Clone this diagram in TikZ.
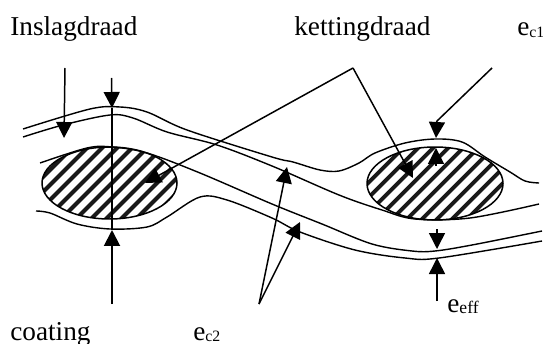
\documentclass[tikz,border=0pt]{standalone}
\usepackage{fontspec}
\setmainfont{Liberation Serif}
\usetikzlibrary{arrows.meta}
\newcommand{\lowtxt}[1]{\raisebox{-1pt}{\fontsize{9}{10}\selectfont #1}}

\begin{document}
\begin{tikzpicture}[x=0.02cm, y=-0.02cm, >={Triangle[width=0.32cm, length=0.32cm]},
  yarn/.style={line width=0.8pt, smooth, tension=0.55},
  arr/.style={->, line width=0.85pt},
  stripe/.style={line width=0.078cm, black!90},
  lbl/.style={anchor=base west, inner sep=0pt, font=\fontsize{15.5}{18}\selectfont}
]
\useasboundingbox[fill=white] (0,0) rectangle (543,344);

%% ---- Labels ----
\node[lbl] (inslag)  at (10,36)   {Inslagdraad};
\node[lbl] (ketting) at (294,36)  {kettingdraad};
\node[lbl] (ec1)     at (517,36)  {e\lowtxt{c1}};
\node[lbl] (coating) at (10,340)  {coating};
\node[lbl] (ec2)     at (193,340) {e\lowtxt{c2}};
\node[lbl] (eeff)    at (447,312) {e\lowtxt{\fontsize{10}{11}\selectfont eff}};

%% ---- Hatched yarn sections ----
\begin{scope}
  \clip (109.5,183) ellipse (67.5 and 36);
  \foreach \s in {-8,...,8}
    \draw[stripe] (109.5+\s*15+2.5-60,183+60) -- (109.5+\s*15+2.5+60,183-60);
\end{scope}
\begin{scope}
  \clip (435,183.5) ellipse (68 and 36.5);
  \foreach \s in {-8,...,8}
    \draw[stripe] (435+\s*15+7.5-60,183.5+60) -- (435+\s*15+7.5+60,183.5-60);
\end{scope}
\draw[line width=0.85pt] (109.5,183) ellipse (67.5 and 36);
\draw[line width=0.85pt] (435,183.5) ellipse (68 and 36.5);

%% ---- Coating lines ----
\draw[yarn] plot coordinates {(23,129) (90,109) (120,107) (147,112) (187,130) (272,157)
  (293,162) (320,170) (339,171) (359,163) (375,153) (405,143) (435,139) (462,142)
  (485,157) (510,172) (525,181) (539,183)};
\draw[yarn] plot coordinates {(23,137) (63,125) (110,115) (133,118) (167,132) (217,145)
  (272,166) (339,195) (382,210) (415,219) (470,218) (539,204)};
\draw[yarn] plot coordinates {(40,163) (87,148) (112,147) (147,153) (200,173) (272,204)
  (322,224) (372,244) (412,251) (435,251) (472,245) (542,231)};
\draw[yarn] plot coordinates {(36,211) (50,213) (77,224) (110,229) (147,227) (167,217)
  (200,197) (227,200) (272,218) (300,232) (355,250) (405,258) (439,258) (542,241)};

%% ---- Anchor points of the arrows ----
\coordinate (inslagfrom) at (65,68);
\coordinate (inslagto)   at (64,138);
\coordinate (ec2top)     at (111.5,78);
\coordinate (ec2upper)   at (112,108);
\coordinate (ec2lower)   at (112,230);
\coordinate (ec2from)    at (112,304);
\coordinate (kettingtop) at (353,68);
\coordinate (kettingl)   at (145,183);
\coordinate (kettingr)   at (413,178);
\coordinate (ec1from)    at (492,68);
\coordinate (ec1bend)    at (437,121);
\coordinate (ec1upper)   at (436,138);
\coordinate (ec1inner)   at (436,148);
\coordinate (ec1stub)    at (436,166);
\coordinate (coatfork)   at (259,304);
\coordinate (coatup)     at (287,167);
\coordinate (coatlow)    at (300,222);
\coordinate (effstart)   at (437,229);
\coordinate (effupper)   at (437,249);
\coordinate (efflower)   at (437,258);
\coordinate (efffrom)    at (437,301);

%% ---- Arrows ----
\draw[arr] (inslagfrom) -- (inslagto);
\draw[arr] (ec2top) -- (ec2upper);
\draw[line width=0.85pt] (ec2upper) -- (ec2lower);
\draw[arr, line width=1.1pt] (ec2from) -- (ec2lower);
\draw[arr] (kettingtop) -- (kettingl);
\draw[arr] (kettingtop) -- (kettingr);
\draw[arr] (ec1from) -- (ec1bend) -- (ec1upper);
\draw[arr] (ec1stub) -- (ec1inner);
\draw[arr] (coatfork) -- (coatup);
\draw[arr] (coatfork) -- (coatlow);
\draw[arr] (effstart) -- (effupper);
\draw[arr] (efffrom) -- (efflower);

\end{tikzpicture}
\end{document}
